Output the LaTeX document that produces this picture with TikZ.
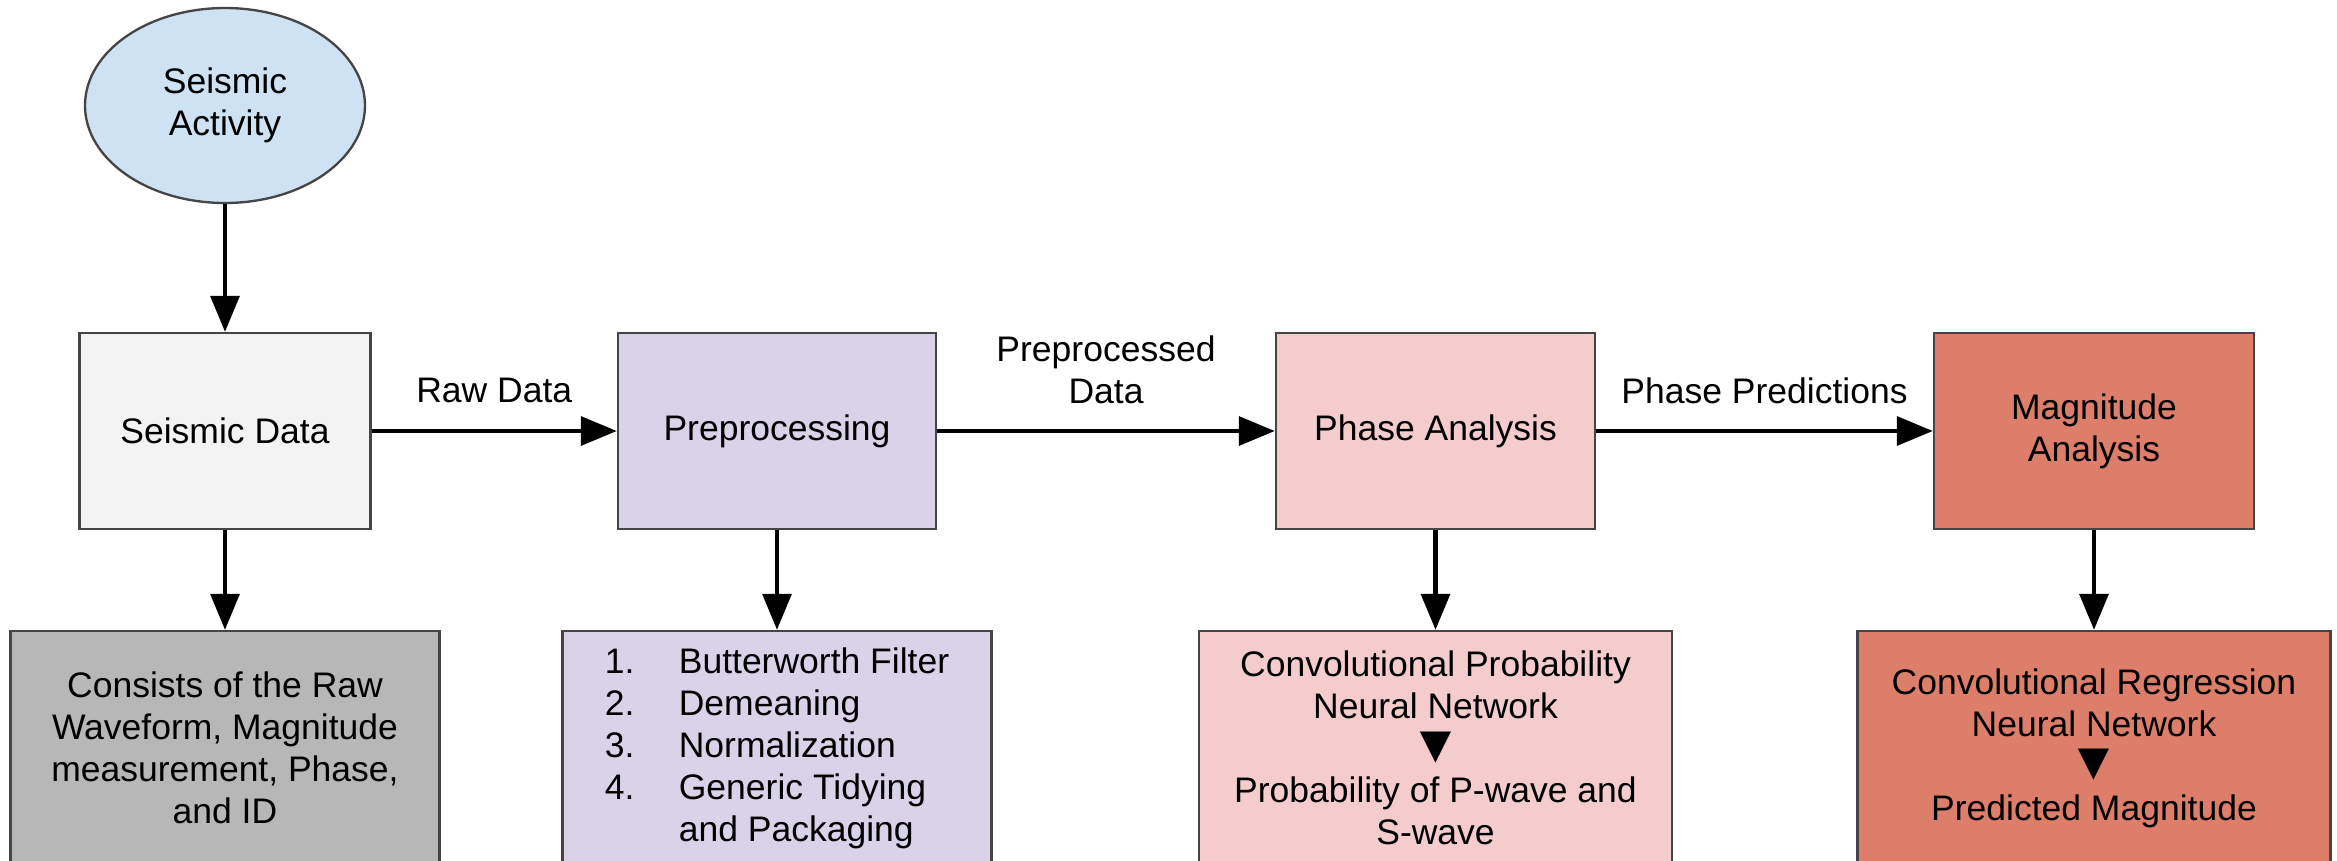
\documentclass[tikz,border=0pt]{standalone}
\usepackage{fontspec}
\setmainfont{Liberation Sans}
\usetikzlibrary{arrows.meta,shapes.geometric}

\definecolor{edgegray}{HTML}{454545}
\definecolor{activityfill}{HTML}{CFE2F3}
\definecolor{datafill}{HTML}{F3F3F3}
\definecolor{detailgray}{HTML}{B7B7B7}
\definecolor{prepfill}{HTML}{D9D2E9}
\definecolor{phasefill}{HTML}{F4CCCC}
\definecolor{magfill}{HTML}{DD7E6B}

\newcommand{\downtri}{\smash{\raisebox{-0.5pt}{\fontsize{16}{12.6}\selectfont ▼}}}
\newcommand{\stepno}[1]{\makebox[22.2pt][l]{#1}}

\begin{document}
\begin{tikzpicture}[x=0.3pt, y=-0.3pt,
  txt/.style={font=\fontsize{10.65}{12.6}\selectfont, text=black},
  box/.style={txt, rectangle, draw=edgegray, line width=0.7pt, inner sep=0pt, align=center},
  topbox/.style={box, minimum height=58.8pt},
  detailbox/.style={box, minimum height=70.2pt},
  flow/.style={-{Triangle[length=10.8pt,width=8.6pt]}, line width=1.3pt, draw=black},
  flowlabel/.style={txt, align=center, inner sep=0pt}
]
\useasboundingbox (0,0) rectangle (2337,860);
\clip (0,0) rectangle (2337,860);

% source of the chain
\node[txt, ellipse, draw=edgegray, line width=0.7pt, fill=activityfill,
      minimum width=84pt, minimum height=58.5pt, inner sep=0pt, align=center]
      (act) at (225,105.5) {Seismic\\Activity};

% main processing stages
\node[topbox, fill=datafill,  minimum width=87.3pt] (sdata) at (225,431)    {Seismic Data};
\node[topbox, fill=prepfill,  minimum width=95.4pt] (prep)  at (777,431)    {Preprocessing};
\node[topbox, fill=phasefill, minimum width=95.7pt] (phase) at (1435.5,431) {Phase Analysis};
\node[topbox, fill=magfill,   minimum width=96pt]   (mag)   at (2094,431)   {Magnitude\\Analysis};

% detail boxes below each stage (they run past the lower edge)
\node[detailbox, fill=detailgray, minimum width=128.7pt] (sdetail) at (225,748)
  {Consists of the Raw\\Waveform, Magnitude\\measurement, Phase,\\and ID};
\node[detailbox, fill=prepfill, minimum width=128.7pt, align=left] (pdetail) at (777,748)
  {\stepno{1.}Butterworth Filter\\
   \stepno{2.}Demeaning\\
   \stepno{3.}Normalization\\
   \stepno{4.}Generic Tidying\\
   \stepno{}and Packaging};
\node[detailbox, fill=phasefill, minimum width=141.9pt] (phdetail) at (1435.5,748)
  {Convolutional Probability\\Neural Network\\\downtri\\Probability of P-wave and\\S-wave};
\node[detailbox, fill=magfill, minimum width=141.9pt] (mdetail) at (2094,748)
  {Convolutional Regression\\Neural Network\\\downtri\\Predicted Magnitude};

% connectors
\draw[flow] (act.south) -- (sdata.north);
\draw[flow] (sdata.east) -- node[flowlabel, yshift=12.3pt] {Raw Data} (prep.west);
\draw[flow] (prep.east) -- node[flowlabel, yshift=18.4pt] {Preprocessed\\Data} (phase.west);
\draw[flow] (phase.east) -- node[flowlabel, yshift=12pt] {Phase Predictions} (mag.west);

\draw[flow] (sdata.south) -- (sdetail.north);
\draw[flow] (prep.south)  -- (pdetail.north);
\draw[flow] (phase.south) -- (phdetail.north);
\draw[flow] (mag.south)   -- (mdetail.north);
\end{tikzpicture}
\end{document}
